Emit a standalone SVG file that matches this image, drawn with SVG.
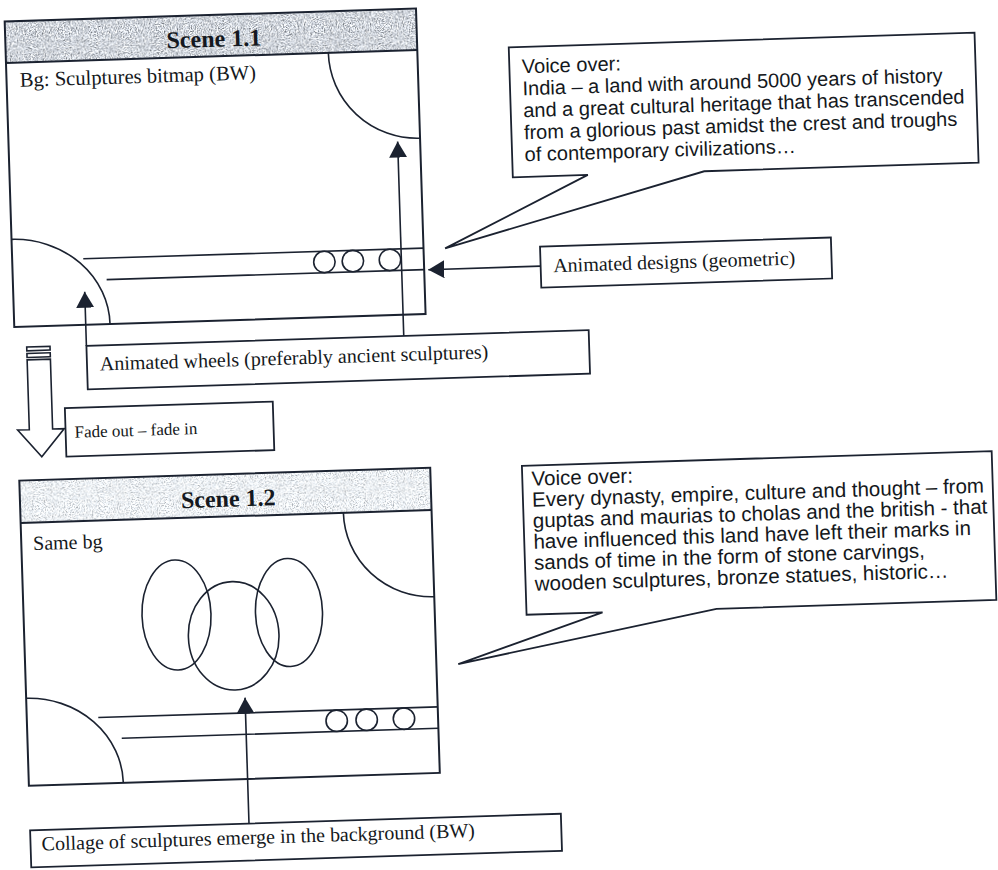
<svg xmlns="http://www.w3.org/2000/svg" width="998" height="870" viewBox="0 0 998 870">
<defs>
<style>
.frame{fill:none;stroke:#1b2230;stroke-width:2}
.ln{fill:none;stroke:#1b2230;stroke-width:1.6}
.box{fill:#fff;stroke:#1b2230;stroke-width:1.8}
.serif{font-family:"Liberation Serif","Times New Roman",serif;fill:#141820;font-size:20px}
.sans{font-family:"Liberation Sans",Arial,sans-serif;fill:#141820}
.title{font-weight:bold;font-size:24px;text-anchor:middle}
.conn{fill:none;stroke:#1b2230;stroke-width:1.6}
</style>
<marker id="head" viewBox="0 0 16 18" markerWidth="16" markerHeight="18" refX="16" refY="9" orient="auto" markerUnits="userSpaceOnUse">
<path d="M0,0 L16,9 L0,18 Z" fill="#1b2230"/>
</marker>
<!-- speckled grey fill for the scene title bars -->
<filter id="grainDark" x="0" y="0" width="1" height="1" color-interpolation-filters="sRGB">
<feTurbulence type="fractalNoise" baseFrequency="0.85" numOctaves="3" seed="4"/>
<feColorMatrix type="matrix" values="1.3 0 0 0 0.17  1.3 0 0 0 0.19  1.3 0 0 0 0.22  0 0 0 0 1"/>
<feComposite in2="SourceGraphic" operator="in"/>
</filter>
<filter id="grainLight" x="0" y="0" width="1" height="1" color-interpolation-filters="sRGB">
<feTurbulence type="fractalNoise" baseFrequency="0.85" numOctaves="3" seed="9"/>
<feColorMatrix type="matrix" values="1.0 0 0 0 0.44  1.0 0 0 0 0.46  1.0 0 0 0 0.48  0 0 0 0 1"/>
<feComposite in2="SourceGraphic" operator="in"/>
</filter>
</defs>
<rect width="998" height="870" fill="#fff"/>
<g transform="rotate(-1.8)">

<g id="scene-1-1">
<rect x="4" y="21.6" width="411.5" height="41.5" fill="#ccc" filter="url(#grainDark)"/>
<rect class="frame" x="4" y="21.6" width="411.5" height="305.7"/>
<path class="frame" d="M4,63.1 H415.5"/>
<text class="serif title" x="212.5" y="53.5">Scene 1.1</text>
<text class="serif" style="font-size:20.6px" x="17.3" y="87.3">Bg: Sculptures bitmap (BW)</text>
<path class="ln" d="M326.5,63.1 A89,88.3 0 0 0 415.5,151.4"/>
<path class="ln" d="M4,239.6 A95.8,87.7 0 0 1 99.8,327.3"/>
<path class="ln" d="M75.1,261.3 H415.5 M97.8,282.8 H415.5"/>
<circle class="ln" cx="316" cy="272" r="10.7"/>
<circle class="ln" cx="344.5" cy="272" r="10.7"/>
<circle class="ln" cx="381.6" cy="272" r="10.7"/>
</g>

<g id="voice-over-1">
<path class="box" d="M507,63.3 H973 V193.3 H698.5 L437.1,262.2 L582,193.3 H507 Z"/>
<text class="sans" font-size="20" x="519.5" y="89.7">Voice over:</text>
<text class="sans" font-size="20" x="519.5" y="111.7">India – a land with around 5000 years of history</text>
<text class="sans" font-size="20" x="519.5" y="133.7">and a great cultural heritage that has transcended</text>
<text class="sans" font-size="20" x="519.5" y="155.7">from a glorious past amidst the crest and troughs</text>
<text class="sans" font-size="20" x="519.5" y="177.7">of contemporary civilizations…</text>
</g>

<g id="animated-designs">
<rect class="box" x="532" y="263.5" width="291" height="41"/>
<text class="serif" x="544.6" y="289.5">Animated designs (geometric)</text>
</g>

<g id="animated-wheels">
<rect class="box" x="75.5" y="348.4" width="502.5" height="43.6"/>
<text class="serif" x="88.3" y="373.5">Animated wheels (preferably ancient sculptures)</text>
</g>

<g id="transition">
<rect class="ln" x="15.8" y="347.7" width="23.3" height="3.8" fill="#fff"/>
<rect class="ln" x="15.8" y="354.2" width="23.3" height="4" fill="#fff"/>
<path class="ln" d="M15.8,360.5 H39.1 V430.4 H50.8 L27.45,457.8 L4.1,430.4 H15.8 Z"/>
</g>

<g id="fade">
<rect class="box" x="52" y="410" width="208" height="48.5"/>
<text class="serif" style="font-size:17px" x="61" y="440">Fade out – fade in</text>
</g>

<g id="scene-1-2">
<rect x="4.2" y="481" width="411.1" height="42.4" fill="#eee" filter="url(#grainLight)"/>
<rect class="frame" x="4.2" y="481" width="411.1" height="305.3"/>
<path class="frame" d="M4.2,523.4 H415.3"/>
<text class="serif title" x="212.5" y="513.6">Scene 1.2</text>
<text class="serif" x="16" y="550.8">Same bg</text>
<path class="ln" d="M327.1,523.4 A88.2,86.7 0 0 0 415.3,610.1"/>
<ellipse class="ln" cx="157.1" cy="620.2" rx="34.5" ry="55"/>
<ellipse class="ln" cx="269.6" cy="621.3" rx="33.5" ry="54"/>
<ellipse class="ln" cx="213.6" cy="642.8" rx="45.3" ry="54.2"/>
<path class="ln" d="M75.7,720.3 H415.3 M98.5,741.7 H415.3"/>
<circle class="ln" cx="313.9" cy="731" r="10.7"/>
<circle class="ln" cx="343.9" cy="731" r="10.7"/>
<circle class="ln" cx="381.2" cy="731" r="10.7"/>
<path class="ln" d="M4.2,698.8 A94.5,87.5 0 0 1 98.7,786.3"/>
</g>

<g id="voice-over-2">
<path class="box" d="M507,482 H977 V631 H697 L437.2,678.1 L583,631 H507 Z"/>
<text class="sans" font-size="20.5" x="516.2" y="502.2">Voice over:</text>
<text class="sans" font-size="20.5" x="516.2" y="523.2">Every dynasty, empire, culture and thought – from</text>
<text class="sans" font-size="20.5" x="516.2" y="544.2">guptas and maurias to cholas and the british - that</text>
<text class="sans" font-size="20.5" x="516.2" y="565.2">have influenced this land have left their marks in</text>
<text class="sans" font-size="20.5" x="516.2" y="586.2">sands of time in the form of stone carvings,</text>
<text class="sans" font-size="20.5" x="516.2" y="607.2">wooden sculptures, bronze statues, historic…</text>
</g>

<g id="collage">
<rect class="box" x="4" y="831" width="531" height="37"/>
<text class="serif" x="15.1" y="851.5">Collage of sculptures emerge in the background (BW)</text>
</g>

<g id="connectors">
<path class="conn" d="M532,283 H419.6" marker-end="url(#head)"/>
<path class="conn" d="M75.5,348.4 V294.2" marker-end="url(#head)"/>
<path class="conn" d="M393,348.4 V154" marker-end="url(#head)"/>
<path class="conn" d="M223,831 V705" marker-end="url(#head)"/>
</g>

</g>
</svg>
